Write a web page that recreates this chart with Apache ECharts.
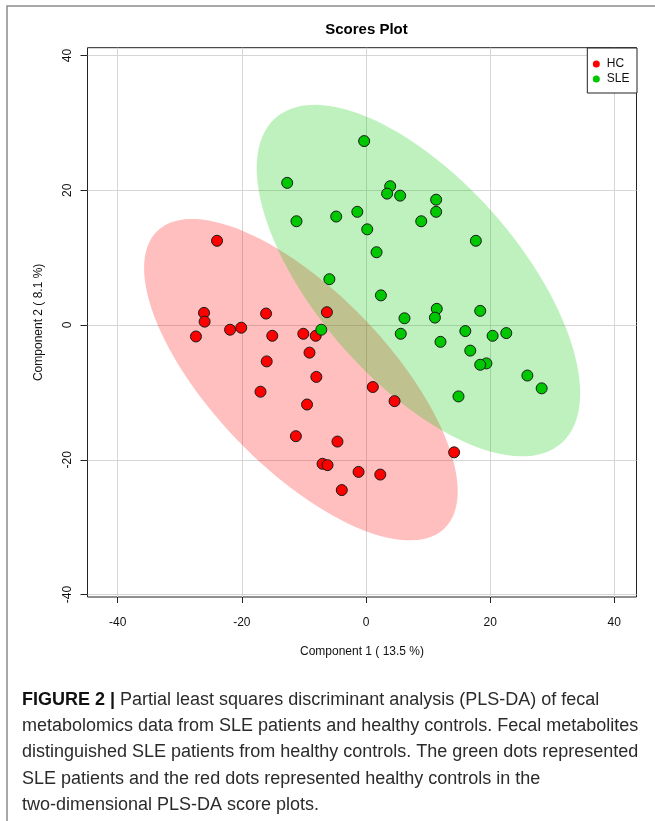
<!DOCTYPE html>
<html><head><meta charset="utf-8">
<script src="https://cdn.jsdelivr.net/npm/echarts@6/dist/echarts.min.js"></script>
<style>html,body{margin:0;padding:0;background:#fff}#c{width:655px;height:821px}</style>
</head><body><div id="c"></div>
<script>
// ---- data ----
const groupNames = ['HC', 'SLE'];
const hcX = [-24.0, -26.1, -26.0, -27.4, -21.9, -20.1, -16.1, -15.1, -10.1, -8.1, -6.3, -9.1, -16.0, -8.0, -17.0, -9.5, 1.1, 4.6, -11.3, -4.6, -7.0, -6.2, -1.2, 2.3, -3.9, 14.2];
const hcY = [12.5, 1.8, 0.5, -1.7, -0.7, -0.4, 1.7, -1.6, -1.3, -1.6, 1.9, -4.1, -5.4, -7.7, -9.9, -11.8, -9.2, -11.3, -16.5, -17.3, -20.6, -20.8, -21.8, -22.2, -24.5, -18.9];
const sleX = [-0.3, -12.7, 3.9, 3.4, 5.5, 11.3, 11.3, -1.4, -4.8, -11.2, 8.9, 0.2, 1.7, 17.7, -5.9, 2.4, 11.4, 18.4, 6.2, 11.1, -7.2, 5.6, 16.0, 20.4, 22.6, 12.0, 16.8, 19.4, 18.4, 26.0, 28.3, 14.9];
const sleY = [27.3, 21.1, 20.6, 19.5, 19.2, 18.6, 16.8, 16.8, 16.1, 15.4, 15.4, 14.2, 10.8, 12.5, 6.8, 4.4, 2.4, 2.1, 1.0, 1.1, -0.7, -1.3, -0.9, -1.6, -1.2, -2.5, -3.8, -5.7, -5.9, -7.5, -9.4, -10.6];
const tickValues = [-40, -20, 0, 20, 40];
const xRange = [-44.87, 43.58];
const yRange = [-40.37, 41.16];
const titleText = 'Scores Plot';
const xAxisName = 'Component 1 ( 13.5 %)';
const yAxisName = 'Component 2 ( 8.1 %)';
const captionBold = 'FIGURE 2 |';
const captionLines = [
  ' Partial least squares discriminant analysis (PLS-DA) of fecal',
  'metabolomics data from SLE patients and healthy controls. Fecal metabolites',
  'distinguished SLE patients from healthy controls. The green dots represented',
  'SLE patients and the red dots represented healthy controls in the',
  'two-dimensional PLS-DA score plots.'
];

// 95% confidence ellipse computed from the group's scores
function confidenceEllipse(xs, ys, level, n) {
  const N = xs.length;
  const mx = xs.reduce((a, b) => a + b, 0) / N;
  const my = ys.reduce((a, b) => a + b, 0) / N;
  let sxx = 0, syy = 0, sxy = 0;
  for (let i = 0; i < N; i++) {
    sxx += (xs[i] - mx) ** 2; syy += (ys[i] - my) ** 2; sxy += (xs[i] - mx) * (ys[i] - my);
  }
  sxx /= N - 1; syy /= N - 1; sxy /= N - 1;
  const t = Math.sqrt(-2 * Math.log(1 - level));
  const a = Math.sqrt(sxx), b = sxy / a, c = Math.sqrt(syy - b * b);
  const pts = [];
  for (let i = 0; i < n; i++) {
    const th = 2 * Math.PI * i / n;
    const u = Math.cos(th), v = Math.sin(th);
    pts.push([mx + t * a * u, my + t * (b * u + c * v)]);
  }
  return pts;
}
const hcEllipse = confidenceEllipse(hcX, hcY, 0.95, 120);
const sleEllipse = confidenceEllipse(sleX, sleY, 0.95, 120);

const FONT = '"Liberation Sans", Arial, Helvetica, sans-serif';
const chart = echarts.init(document.getElementById('c'), null, { renderer: 'canvas' });

function ellipseSeries(name, pts, fill, z) {
  return {
    name: name, type: 'custom', coordinateSystem: 'cartesian2d', silent: true, z: z,
    data: [pts[0]],
    renderItem: function (params, api) {
      return { type: 'polygon', shape: { points: pts.map(p => api.coord(p)) }, style: { fill: fill, stroke: null } };
    }
  };
}

const captionGraphics = captionLines.map((line, i) => ({
  type: 'text', left: 22, top: 691 + i * 26.2,
  style: {
    text: i === 0 ? '{b|' + captionBold + '}' + line : line,
    fontSize: 18, fontFamily: FONT, fill: '#2b2b2b',
    rich: { b: { fontSize: 18, fontFamily: FONT, fontWeight: 'bold', fill: '#111', color: '#111' } }
  }
}));

chart.setOption({
  animation: false,
  backgroundColor: '#fff',
  title: {
    text: titleText, left: 361.5, top: 17, textAlign: 'center',
    textStyle: { fontSize: 15, fontWeight: 'bold', fontFamily: FONT, color: '#000' }
  },
  legend: {
    data: groupNames, orient: 'vertical', right: 18, top: 48,
    icon: 'circle', itemWidth: 11, itemHeight: 7, itemGap: 3,
    padding: [10, 7.5, 8, 5.5],
    borderColor: '#222', borderWidth: 1, backgroundColor: '#fff',
    itemStyle: { borderWidth: 0 },
    textStyle: { fontSize: 12, fontFamily: FONT, color: '#111' }
  },
  grid: {
    left: 87.5, right: 18.5, top: 47.7, bottom: 224,
    show: true, borderColor: '#222', borderWidth: 1, backgroundColor: 'transparent'
  },
  xAxis: {
    type: 'value', min: xRange[0], max: xRange[1],
    name: xAxisName, nameLocation: 'middle', nameGap: 49,
    nameTextStyle: { fontSize: 12, fontFamily: FONT, color: '#111' },
    axisLine: { show: false, onZero: false },
    axisTick: { show: true, customValues: tickValues, length: 6, inside: false, lineStyle: { color: '#222' } },
    axisLabel: { customValues: tickValues, margin: 20, fontSize: 12, fontFamily: FONT, color: '#111' },
    splitLine: { show: true, lineStyle: { color: '#d6d6d6', width: 1 } }
  },
  yAxis: {
    type: 'value', min: yRange[0], max: yRange[1],
    name: yAxisName, nameLocation: 'middle', nameGap: 43, nameRotate: 90,
    nameTextStyle: { fontSize: 12, fontFamily: FONT, color: '#111' },
    axisLine: { show: false, onZero: false },
    axisTick: { show: true, customValues: tickValues, length: 7, inside: false, lineStyle: { color: '#222' } },
    axisLabel: { customValues: tickValues, margin: 14, rotate: 90, fontSize: 12, fontFamily: FONT, color: '#111' },
    splitLine: { show: true, lineStyle: { color: '#d6d6d6', width: 1 } }
  },
  series: [
    ellipseSeries('HC region', hcEllipse, 'rgba(255,0,0,0.25)', 1),
    ellipseSeries('SLE region', sleEllipse, 'rgba(0,200,0,0.25)', 2),
    {
      name: 'HC', type: 'scatter', z: 3, symbol: 'circle', symbolSize: 11,
      data: hcX.map((x, i) => [x, hcY[i]]),
      itemStyle: { color: '#FF0000', borderColor: '#1a1a1a', borderWidth: 1, opacity: 1 }
    },
    {
      name: 'SLE', type: 'scatter', z: 4, symbol: 'circle', symbolSize: 11,
      data: sleX.map((x, i) => [x, sleY[i]]),
      itemStyle: { color: '#00C800', borderColor: '#1a1a1a', borderWidth: 1, opacity: 1 }
    }
  ],
  graphic: [
    { type: 'polyline', silent: true, shape: { points: [[7, 821], [7, 6], [655, 6]] }, style: { stroke: '#8c8c8c', lineWidth: 1.5, fill: null } }
  ].concat(captionGraphics)
});
</script>
</body></html>
